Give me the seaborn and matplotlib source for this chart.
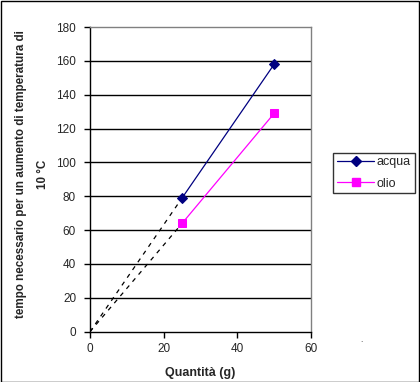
import matplotlib
matplotlib.use("Agg")
import matplotlib.pyplot as plt
import seaborn as sns
import pandas as pd
from matplotlib.lines import Line2D
from matplotlib.patches import Rectangle

sns.set_style("white")
plt.rcParams['font.family'] = ['Liberation Sans', 'DejaVu Sans']

quantita = [25, 50]
acqua = [79, 158]
olio = [64, 129]
estr_x = [0, 25]
estr_acqua = [0, 79]
estr_olio = [0, 64]

x_ticks = [0, 20, 40, 60]
y_ticks = list(range(0, 181, 20))

W, H = 420, 382
fig = plt.figure(figsize=(W / 100, H / 100), dpi=100)
ax = fig.add_axes([90 / W, 1 - 331.7 / H, (311 - 90) / W, (331.7 - 27) / H])

df = pd.DataFrame({"x": quantita, "acqua": acqua, "olio": olio})
dfe = pd.DataFrame({"x": estr_x, "acqua": estr_acqua, "olio": estr_olio})

for y in y_ticks[1:-1]:
    ax.axhline(y, color="black", lw=1.0, zorder=1)

sns.lineplot(data=dfe, x="x", y="acqua", ax=ax, color="black", lw=0.9,
             linestyle=(0, (3.5, 4)), zorder=2)
sns.lineplot(data=dfe, x="x", y="olio", ax=ax, color="black", lw=0.9,
             linestyle=(0, (3.5, 4)), zorder=2)
sns.lineplot(data=df, x="x", y="acqua", ax=ax, color="#000080", lw=0.9,
             marker="D", markersize=5, markeredgecolor="#000080", zorder=3)
sns.lineplot(data=df, x="x", y="olio", ax=ax, color="#FF00FF", lw=0.9,
             marker="s", markersize=6, markeredgecolor="#FF00FF", zorder=3)

ax.set_xlim(0, 60)
ax.set_ylim(0, 180)
ax.set_xticks(x_ticks)
ax.set_yticks(y_ticks)
ax.tick_params(axis="y", direction="out", length=4, width=1, color="black",
               labelsize=8.5, pad=6, left=True)
ax.tick_params(axis="x", direction="out", length=4, width=1, color="black",
               labelsize=8.5, pad=4, bottom=True)
for s in ["top", "right"]:
    ax.spines[s].set_color("#808080")
    ax.spines[s].set_linewidth(1)
for s in ["left", "bottom"]:
    ax.spines[s].set_color("black")
    ax.spines[s].set_linewidth(1)

ax.set_xlabel("Quantità (g)", fontsize=9, fontweight="bold")
ax.xaxis.set_label_coords(0.5, -0.115)
ax.set_ylabel("")
fig.text(32 / W, 1 - 174 / H,
         "tempo necessario per un aumento di temperatura di\n10 °C",
         rotation=90, ha="center", va="center", fontsize=8.4, fontweight="bold",
         linespacing=2.0, multialignment="center")

handles = [Line2D([], [], color="#000080", marker="D", markersize=5, lw=0.9),
           Line2D([], [], color="#FF00FF", marker="s", markersize=5.5, lw=0.9)]
leg = fig.legend(handles, ["acqua", "olio"], loc="upper left",
                 bbox_to_anchor=(333 / W, 1 - 152.5 / H), frameon=True,
                 fancybox=False, edgecolor="black", fontsize=9,
                 handlelength=3.0, handletextpad=0.2, borderpad=0.3,
                 labelspacing=0.75, borderaxespad=0)
leg.get_frame().set_linewidth(1)

fig.text(361 / W, 1 - 344 / H, ".", fontsize=6, ha="center", va="bottom")

fig.patches.append(Rectangle((0.5 / W, 0.5 / H), 1 - 1.5 / W, 1 - 1.5 / H,
                             transform=fig.transFigure, fill=False,
                             edgecolor="black", lw=1))

fig.savefig("out.png", dpi=100)
